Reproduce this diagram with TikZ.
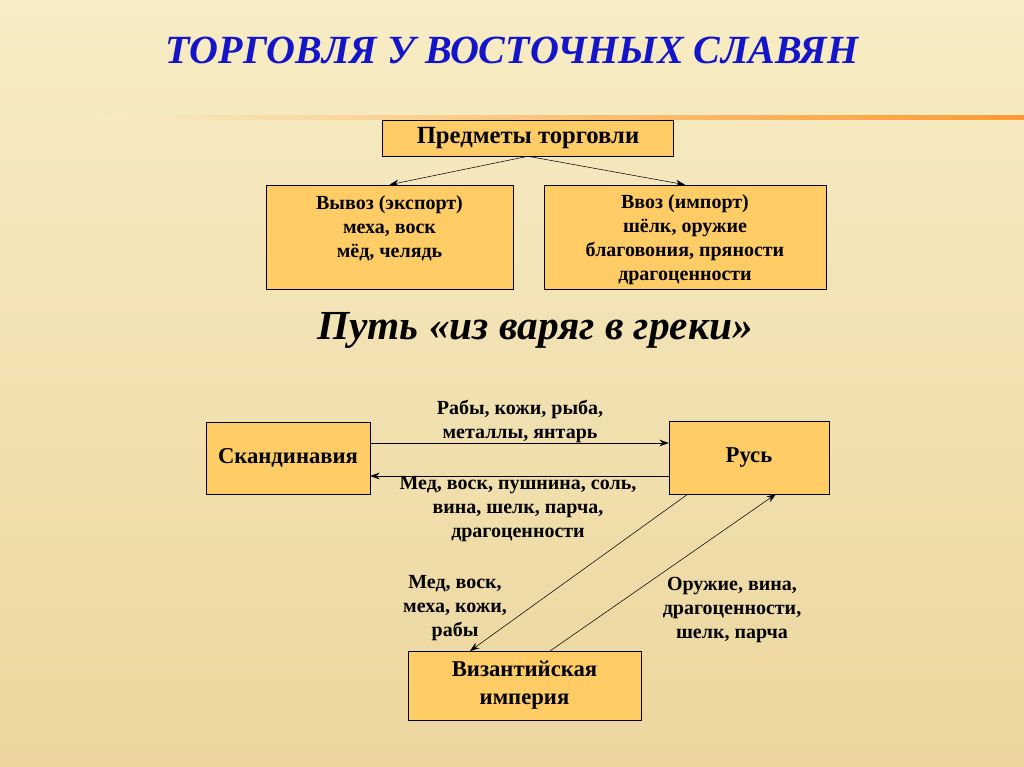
\documentclass[tikz,border=0pt]{standalone}
\usepackage{fontspec}
\setmainfont{Liberation Serif}
\usetikzlibrary{arrows.meta}
\definecolor{boxc}{RGB}{255,204,102}
\definecolor{titc}{RGB}{20,20,200}
\tikzset{
 box/.style={draw=black,fill=boxc,inner sep=0pt,align=center,font=\bfseries\fontsize{15}{18}\selectfont},
 lab/.style={align=center,font=\bfseries\fontsize{15}{18}\selectfont},
 arr/.style={-{Stealth[length=7pt,width=5pt]},thin}
}
\begin{document}
\begin{tikzpicture}[x=0.75pt,y=-0.75pt]
\shade[top color={rgb,255:red,247;green,236;blue,196},bottom color={rgb,255:red,236;green,214;blue,158}] (0,0) rectangle (1024,767);
\useasboundingbox (0,0) rectangle (1024,767);
\shade[left color={rgb,255:red,247;green,236;blue,196},right color=orange!80] (100,115) rectangle (1024,119);
\node[font=\bfseries\itshape\fontsize{30}{34}\selectfont,text=titc] (title) at (512,50) {ТОРГОВЛЯ У ВОСТОЧНЫХ СЛАВЯН};
\node[box,minimum width=291*0.75pt,minimum height=36*0.75pt,font=\bfseries\fontsize{18.5}{22}\selectfont] (pt) at (528,138) {Предметы торговли};
\node[box,minimum width=247*0.75pt,minimum height=104*0.75pt] (exp) at (389.5,237) {};
\node[lab] (expt) at (389.5,228) {Вывоз (экспорт)\\меха, воск\\мёд, челядь};
\node[box,minimum width=282*0.75pt,minimum height=104*0.75pt] (imp) at (685,237) {};
\node[lab] (impt) at (685,240) {Ввоз (импорт)\\шёлк, оружие\\благовония, пряности\\драгоценности};
\draw[arr] (pt.south) -- (exp.north);
\draw[arr] (pt.south) -- (imp.north);
\node[font=\bfseries\itshape\fontsize{31}{36}\selectfont] (path) at (535,330) {Путь «из варяг в греки»};
\node[box,minimum width=164*0.75pt,minimum height=72*0.75pt,font=\bfseries\fontsize{17}{21}\selectfont] (sc) at (288,458) {Скандинавия};
\node[box,minimum width=160*0.75pt,minimum height=73*0.75pt,font=\bfseries\fontsize{17}{21}\selectfont] (rus) at (749,457.5) {Русь};
\node[box,minimum width=233*0.75pt,minimum height=69*0.75pt,font=\bfseries\fontsize{17}{21}\selectfont] (byz) at (524.5,685.5) {Византийская\\империя};
\draw[arr] (sc.east|-0,443) -- (rus.west|-0,443);
\draw[arr] (rus.west|-0,476) -- (sc.east|-0,476);
\coordinate (r1) at (688,494); \coordinate (b1) at (470,651);
\coordinate (b2) at (550,651); \coordinate (r2) at (776,494);
\draw[arr] (r1) -- (b1);
\draw[arr] (b2) -- (r2);
\node[lab] (l1) at (520,421) {Рабы, кожи, рыба,\\металлы, янтарь};
\node[lab] (l2) at (518,509) {Мед, воск, пушнина, соль,\\вина, шелк, парча,\\драгоценности};
\node[lab] (l3) at (455,608) {Мед, воск,\\меха, кожи,\\рабы};
\node[lab] (l4) at (732,610) {Оружие, вина,\\драгоценности,\\шелк, парча};
\end{tikzpicture}
\end{document}
